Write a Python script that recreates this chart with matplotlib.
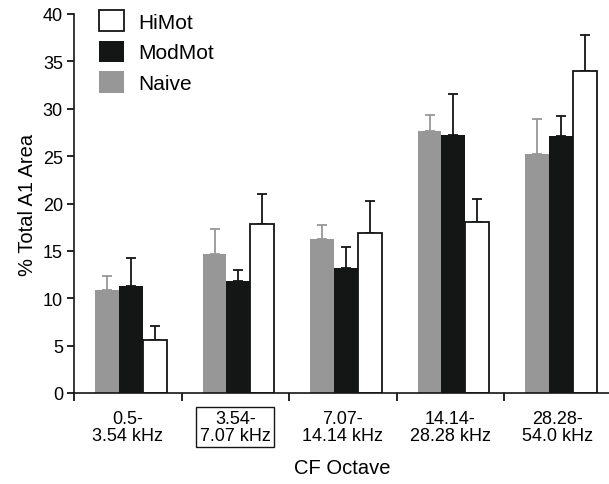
import matplotlib
matplotlib.use("Agg")
import matplotlib.pyplot as plt
from matplotlib.patches import Patch
import numpy as np

plt.rcParams['font.family'] = ['Liberation Sans', 'DejaVu Sans']

categories = ["0.5-\n3.54 kHz", "3.54-\n7.07 kHz", "7.07-\n14.14 kHz", "14.14-\n28.28 kHz", "28.28-\n54.0 kHz"]
naive = [10.9, 14.7, 16.3, 27.7, 25.2]
naive_err = [1.5, 2.65, 1.4, 1.6, 3.7]
modmot = [11.3, 11.8, 13.2, 27.2, 27.1]
modmot_err = [3.0, 1.2, 2.25, 4.4, 2.1]
himot = [5.6, 17.8, 16.9, 18.05, 33.95]
himot_err = [1.5, 3.2, 3.35, 2.45, 3.8]

series_names = ["HiMot", "ModMot", "Naive"]

GRAY = "#979797"
BLACK = "#141615"

fig = plt.figure(figsize=(6.09, 4.85), dpi=100)
W, H = 609, 485
ax = fig.add_axes([74 / W, 1 - 394 / H, (611.5 - 74) / W, (394 - 15) / H])

x = np.arange(len(categories)) + 0.03
w = 0.223
ekw = dict(elinewidth=1.3, capthick=1.3)
ax.bar(x - w, naive, w, color=GRAY, edgecolor='none', zorder=2)
ax.errorbar(x - w, naive, yerr=[np.zeros(5), naive_err], fmt='none', ecolor=GRAY, capsize=3.5, zorder=1, **ekw)
ax.bar(x, modmot, w, color=BLACK, edgecolor='none', zorder=2)
ax.errorbar(x, modmot, yerr=[np.zeros(5), modmot_err], fmt='none', ecolor=BLACK, capsize=3.5, zorder=1, **ekw)
ax.bar(x + w, himot, w, color='white', edgecolor=BLACK, linewidth=1.3, zorder=2)
ax.errorbar(x + w, himot, yerr=[np.zeros(5), himot_err], fmt='none', ecolor=BLACK, capsize=3.5, zorder=1, **ekw)

ax.set_xlim(-0.5, 4.5)
ax.set_ylim(0, 40)
ax.set_yticks(np.arange(0, 41, 5))
ax.spines['top'].set_visible(False)
ax.spines['right'].set_visible(False)
for s in ['left', 'bottom']:
    ax.spines[s].set_linewidth(1.2)
    ax.spines[s].set_color(BLACK)

ax.set_xticks(np.arange(-0.5, 4.0, 1.0))
ax.set_xticklabels([])
ax.set_xticks(np.arange(len(categories)), minor=True)
ax.set_xticklabels(categories, minor=True, fontsize=13, linespacing=0.95)
ax.tick_params(axis='x', which='major', direction='out', length=6, width=1.2)
ax.tick_params(axis='x', which='minor', length=0, pad=12.5)
ax.tick_params(axis='y', direction='out', length=5, width=1.2, labelsize=13, pad=3)

lbl = ax.get_xticklabels(minor=True)[1]
lbl.set_bbox(dict(boxstyle='square,pad=0.2', fc='none', ec=BLACK, lw=1.0))

ax.set_xlabel("CF Octave", fontsize=14.5, labelpad=10)
ax.set_ylabel("% Total A1 Area", fontsize=14.5, labelpad=4)

handles = [Patch(facecolor='white', edgecolor=BLACK, linewidth=1.3),
           Patch(facecolor=BLACK, edgecolor='none'),
           Patch(facecolor=GRAY, edgecolor='none')]
fs = 15
fspx = fs * 100 / 72
leg = fig.legend(handles, series_names, loc='upper left',
                 bbox_to_anchor=(99 / W, 1 - 11 / H), frameon=False,
                 fontsize=fs, borderpad=0, borderaxespad=0,
                 handlelength=25 / fspx, handleheight=25 / fspx,
                 labelspacing=9 / fspx, handletextpad=14 / fspx)

fig.savefig("out.png", dpi=100)
